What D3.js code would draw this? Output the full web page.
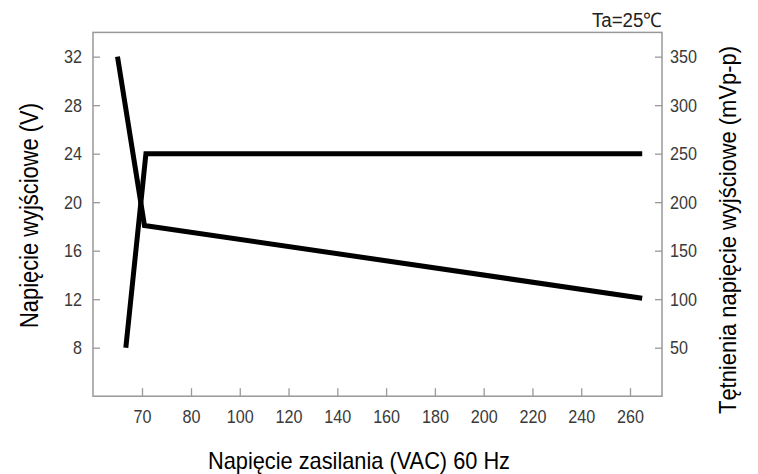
<!DOCTYPE html>
<html>
<head>
<meta charset="utf-8">
<script src="https://cdn.jsdelivr.net/npm/d3@7"></script>
<style>
body { margin: 0; background: #fff; }
svg { display: block; font-family: "Liberation Sans", Arial, sans-serif; }
</style>
</head>
<body>
<svg></svg>
<script>
var WIDTH = 758;
var HEIGHT = 474;
var margin = {top: 32.4, right: 96, bottom: 77.8, left: 93};
var w = WIDTH - margin.left - margin.right;
var h = HEIGHT - margin.top - margin.bottom;

// data
var xTicks = [70, 80, 100, 120, 140, 160, 180, 200, 220, 240, 260];
var leftTicks = [8, 12, 16, 20, 24, 28, 32];
var rightTicks = [50, 100, 150, 200, 250, 300, 350];

var voltIn = [66.7, 70.8, 265];       // VAC
var voltOut = [8, 24, 24];           // V (left axis)
var rippleIn = [65, 70.5, 265];      // VAC
var ripple = [350, 176, 101];        // mVp-p (right axis)

var svg = d3.select('svg')
  .attr('width', WIDTH)
  .attr('height', HEIGHT);

var g = svg.append('g')
  .attr('transform', 'translate(' + margin.left + ',' + margin.top + ')');

// the x axis in the picture is not uniform: 70-80 takes as much room as 80-100
var xScale = d3.scaleLinear()
  .domain([70, 80, 260])
  .range([49, 98, 537]);
var yLeft = d3.scaleLinear().domain([4, 34]).range([h, 0]);
var yRight = d3.scaleLinear().domain([0, 375]).range([h, 0]);

// the original font is a narrow one, squeeze the installed sans to fit
var squeeze = function(sel, k){
  sel.each(function(){
    var len = this.getComputedTextLength();
    d3.select(this).attr('textLength', len * k).attr('lengthAdjust', 'spacingAndGlyphs');
  });
};

var bottomAxis = d3.axisBottom(xScale).tickValues(xTicks).tickSize(-8).tickPadding(13);
var leftAxis = d3.axisLeft(yLeft).tickValues(leftTicks).tickSize(-7).tickPadding(11);
var rightAxis = d3.axisRight(yRight).tickValues(rightTicks).tickSize(-7).tickPadding(8);

var styleAxis = function(sel){
  sel.select('.domain').remove();
  sel.selectAll('line').attr('stroke', '#999').attr('stroke-width', 1.3);
  sel.selectAll('text')
    .attr('fill', '#3a3a3a')
    .style('font-size', '19px')
    .style('font-family', null)
    .call(squeeze, 0.85);
};

g.append('g').attr('transform', 'translate(0,' + h + ')').call(bottomAxis).call(styleAxis);
g.append('g').call(leftAxis).call(styleAxis);
g.append('g').attr('transform', 'translate(' + w + ',0)').call(rightAxis).call(styleAxis);

g.append('rect')
  .attr('width', w)
  .attr('height', h)
  .attr('fill', 'none')
  .attr('stroke', '#999')
  .attr('stroke-width', 1.5);

var outLine = d3.line()
  .x(function(d, i){ return xScale(voltIn[i]); })
  .y(function(d){ return yLeft(d); });

var ripLine = d3.line()
  .x(function(d, i){ return xScale(rippleIn[i]); })
  .y(function(d){ return yRight(d); });

g.append('path').datum(voltOut)
  .attr('d', outLine)
  .attr('fill', 'none')
  .attr('stroke', '#000')
  .attr('stroke-width', 5);

g.append('path').datum(ripple)
  .attr('d', ripLine)
  .attr('fill', 'none')
  .attr('stroke', '#000')
  .attr('stroke-width', 5);

// titles
svg.append('text')
  .attr('x', 359)
  .attr('y', 469)
  .attr('text-anchor', 'middle')
  .attr('textLength', 302)
  .attr('lengthAdjust', 'spacingAndGlyphs')
  .style('font-size', '24px')
  .text('Napięcie zasilania (VAC) 60 Hz');

svg.append('text')
  .attr('transform', 'translate(38,215.5) rotate(-90)')
  .attr('text-anchor', 'middle')
  .attr('textLength', 225)
  .attr('lengthAdjust', 'spacingAndGlyphs')
  .style('font-size', '25px')
  .text('Napięcie wyjściowe (V)');

svg.append('text')
  .attr('transform', 'translate(736,230) rotate(-90)')
  .attr('text-anchor', 'middle')
  .attr('textLength', 368)
  .attr('lengthAdjust', 'spacingAndGlyphs')
  .style('font-size', '24px')
  .text('Tętnienia napięcie wyjściowe (mVp-p)');

svg.append('text')
  .attr('x', margin.left + w)
  .attr('y', 26.5)
  .attr('text-anchor', 'end')
  .attr('textLength', 70)
  .attr('lengthAdjust', 'spacingAndGlyphs')
  .attr('fill', '#222')
  .style('font-size', '20px')
  .text('Ta=25℃');
</script>
</body>
</html>
